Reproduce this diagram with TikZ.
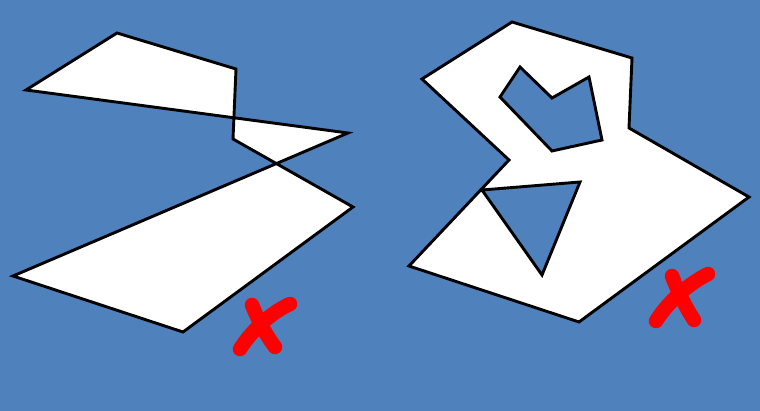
\documentclass[tikz,border=0pt]{standalone}
\definecolor{bgblue}{HTML}{4F81BD}
\definecolor{xred}{HTML}{FF0000}
\tikzset{
  poly/.style={draw=black, fill=white, line width=2.9pt, line join=miter},
  cross/.style={draw=xred, line width=14.5pt, line cap=round},
}
\begin{document}
\begin{tikzpicture}[x=1pt,y=-1pt]
\fill[bgblue] (0,0) rectangle (760,411);
\useasboundingbox (0,0) rectangle (760,411);
% left self-intersecting polygon
\path[poly] (26,90) -- (117,33) -- (236,69) -- (233,139) -- (353,207)
  -- (183,332) -- (13,276) -- (348,133) -- cycle;
% right polygon with holes
\path[poly, even odd rule] (422,79) -- (512,22) -- (632,58) -- (629,128) -- (749,197)
  -- (579,322) -- (409,266) -- (509,160) -- cycle
  (520,67) -- (552,98) -- (589,77) -- (602,140) -- (552,151) -- (500,97) -- cycle
  (482,190) -- (580,182) -- (542,275) -- cycle;
% red crosses
\draw[cross] (252,305) .. controls (258,320) and (266,335) .. (275,347);
\draw[cross] (290,304) .. controls (272,312) and (252,330) .. (240,349);
\draw[cross] (672,276) .. controls (678,292) and (686,308) .. (694,320);
\draw[cross] (708,274) .. controls (688,284) and (668,302) .. (656,321);
\end{tikzpicture}
\end{document}
